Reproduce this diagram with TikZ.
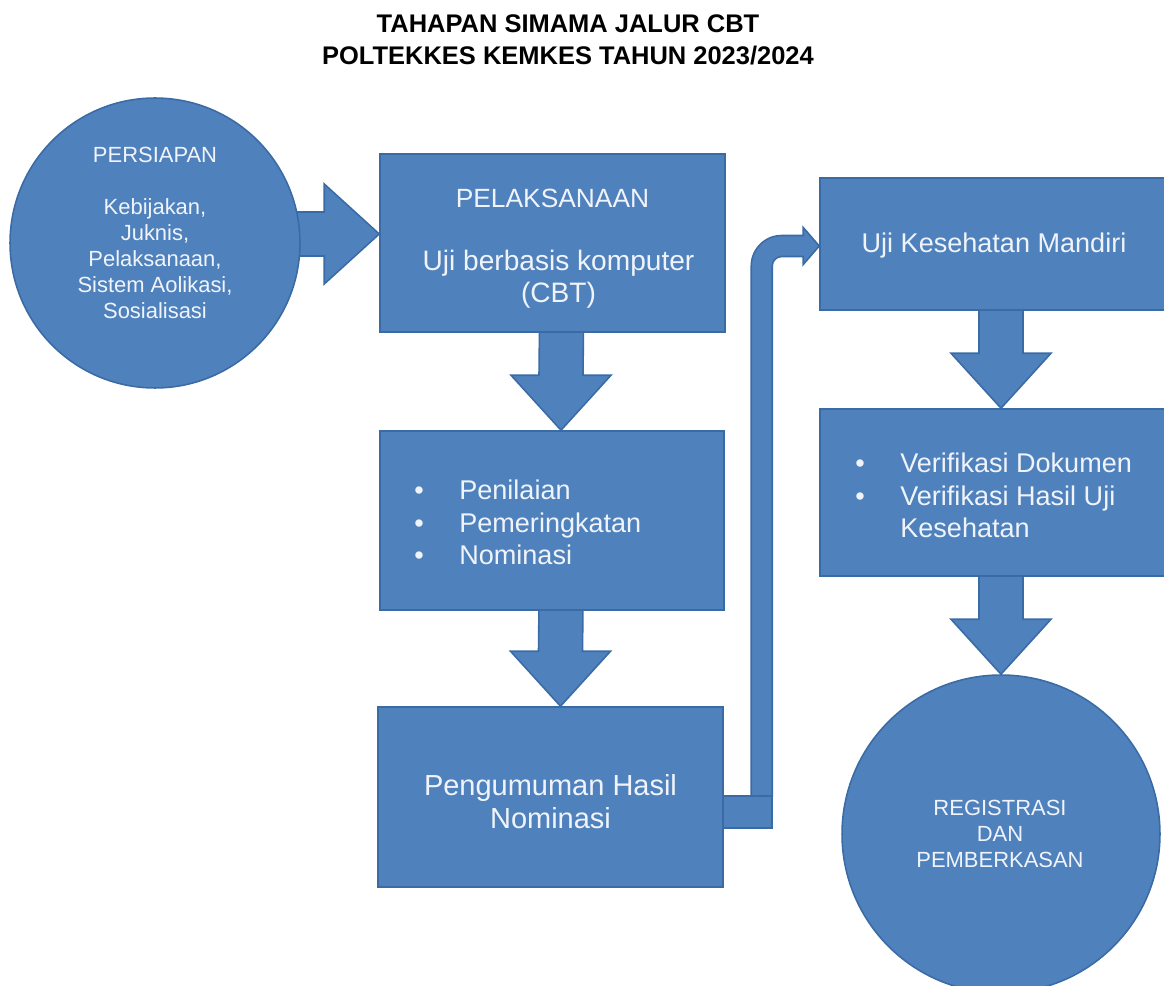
\documentclass[tikz,border=0pt]{standalone}
\usepackage{fontspec}
\setmainfont{Liberation Sans}
\usetikzlibrary{calc}
\pgfdeclarelayer{bg}
\pgfsetlayers{bg,main}
\definecolor{boxfill}{HTML}{4F81BD}
\definecolor{boxline}{HTML}{3B6BA5}
\definecolor{boxtext}{HTML}{F0F4FA}
\newcommand{\fsz}[2]{\fontsize{#1}{#2}\selectfont}
\newcommand{\downblock}[2]{%
  \filldraw[blk] ($(#1)+(-22,0)$) -- ($(#2)+(-22,-55)$) -- ($(#2)+(-50,-55)$) -- (#2)
    -- ($(#2)+(50,-55)$) -- ($(#2)+(22,-55)$) -- ($(#1)+(22,0)$) -- cycle;}
\begin{document}
\begin{tikzpicture}[x=0.02cm,y=-0.02cm,
  blk/.style={fill=boxfill,draw=boxline,line width=0.9pt,line join=miter},
  box/.style={blk,rectangle,inner sep=0pt},
  disc/.style={blk,circle,inner sep=0pt},
  lbl/.style={text=boxtext,inner sep=0pt,align=center},
  bul/.style={text=boxtext,inner sep=0pt,align=left,anchor=west}]
\useasboundingbox (0,0) rectangle (1164,986);

% title
\node[font=\bfseries\fsz{14.5pt}{18.2pt},align=center,inner sep=0pt] (title) at (568,40)
  {TAHAPAN SIMAMA JALUR CBT\\POLTEKKES KEMKES TAHUN 2023/2024};

% shapes
\node[disc,minimum size=5.8cm] (persiapan) at (155,243) {};
\node[box,minimum width=6.9cm,minimum height=3.56cm] (pel) at (552.5,243) {};
\node[box,minimum width=6.88cm,minimum height=3.58cm] (pen) at (552,520.5) {};
\node[box,minimum width=6.9cm,minimum height=3.6cm] (peng) at (550.5,797) {};
\node[box,minimum width=7.24cm,minimum height=2.64cm] (uji) at (1001,244) {};
\node[box,minimum width=7.24cm,minimum height=3.34cm] (ver) at (1001,492.5) {};
\node[disc,minimum size=6.36cm] (reg) at (1001,834) {};

% texts
\node[lbl,font=\fsz{12.5pt}{14.8pt}] (persiapanTxt) at ($(persiapan)+(0,-10)$)
  {PERSIAPAN\\[14.8pt]Kebijakan,\\Juknis,\\Pelaksanaan,\\Sistem Aolikasi,\\Sosialisasi};
\node[lbl,font=\fsz{15pt}{18pt}] (pelTxtA) at ($(pel)+(0,-45)$) {PELAKSANAAN};
\node[lbl,font=\fsz{16pt}{18.2pt}] (pelTxtB) at ($(pel)+(6,36)$) {Uji berbasis komputer\\(CBT)};
\node[bul,font=\fsz{15.4pt}{18.5pt}] (penTxt) at ($(pen)+(-138,2)$)
  {\makebox[0.9cm][l]{\textbullet}Penilaian\\\makebox[0.9cm][l]{\textbullet}Pemeringkatan\\\makebox[0.9cm][l]{\textbullet}Nominasi};
\node[lbl,font=\fsz{16.5pt}{18.8pt}] (pengTxt) at ($(peng)+(0,4.5)$) {Pengumuman Hasil\\Nominasi};
\node[lbl,font=\fsz{15.4pt}{18pt}] (ujiTxt) at ($(uji)+(-7,2)$) {Uji Kesehatan Mandiri};
\node[bul,font=\fsz{15.4pt}{18.5pt}] (verTxt) at ($(ver)+(-146,3)$)
  {\makebox[0.9cm][l]{\textbullet}Verifikasi Dokumen\\\makebox[0.9cm][l]{\textbullet}Verifikasi Hasil Uji\\\makebox[0.9cm][l]{}Kesehatan};
\node[lbl,font=\fsz{12.5pt}{15pt}] (regTxt) at ($(reg)+(-1,0)$) {REGISTRASI\\DAN\\PEMBERKASAN};

% connectors
\begin{pgfonlayer}{bg}
  % right block arrow
  \coordinate (ra) at ($(pel.west)+(0,-9)$);
  \coordinate (rb) at ($(persiapan.east)+(-20,-9)$);
  \filldraw[blk] ($(rb)+(0,-22)$) -- ($(ra)+(-55,-22)$) -- ($(ra)+(-55,-50)$) -- (ra)
    -- ($(ra)+(-55,50)$) -- ($(ra)+(-55,22)$) -- ($(rb)+(0,22)$) -- cycle;
  % down block arrows
  \coordinate (a1s) at ($(pel.south)+(9,-5)$);
  \coordinate (a1t) at ($(pen.north)+(9,0)$);
  \downblock{a1s}{a1t}
  \coordinate (a2s) at ($(pen.south)+(9,-5)$);
  \coordinate (a2t) at ($(peng.north)+(10,0)$);
  \downblock{a2s}{a2t}
  \coordinate (a3s) at ($(uji.south)+(0,-5)$);
  \coordinate (a3t) at (ver.north);
  \downblock{a3s}{a3t}
  \coordinate (a4s) at ($(ver.south)+(0,-5)$);
  \coordinate (a4t) at (reg.north);
  \downblock{a4s}{a4t}
  % bent arrow
  \coordinate (bt) at ($(uji.west)+(0,2)$);
  \coordinate (bs) at ($(peng.east)+(0,15)$);
  \coordinate (vx) at ($(bs)+(38,0)$);
  \coordinate (K) at (vx |- bt);
  \coordinate (vb) at ($(bs)+(38,-16)$);
  \filldraw[blk] ($(vb)+(-10.5,0)$) -- ($(K)+(-10.5,20)$)
    .. controls ($(K)+(-10.5,3.2)$) and ($(K)+(3.2,-10.5)$) .. ($(K)+(20,-10.5)$)
    -- ($(bt)+(-16,-10.5)$) -- ($(bt)+(-16,-18.5)$) -- (bt) -- ($(bt)+(-16,18.5)$)
    -- ($(bt)+(-16,10.5)$) -- ($(K)+(20,10.5)$)
    .. controls ($(K)+(14.75,10.5)$) and ($(K)+(10.5,14.75)$) .. ($(K)+(10.5,20)$)
    -- ($(vb)+(10.5,0)$) -- cycle;
  \filldraw[blk] ($(bs)+(-3,-16)$) rectangle ($(bs)+(48,16)$);
\end{pgfonlayer}
\end{tikzpicture}
\end{document}
